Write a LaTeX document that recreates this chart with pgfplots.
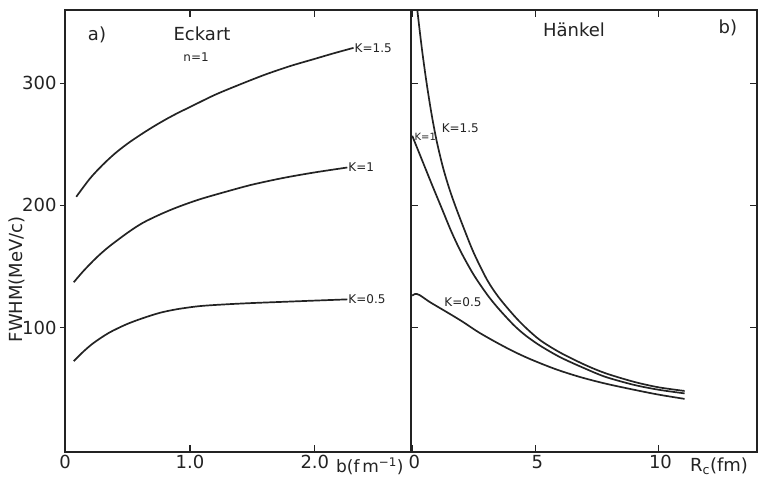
\documentclass[border=0pt]{standalone}
\usepackage{pgfplots}
\pgfplotsset{compat=1.18}
\usepackage{fontspec}
\setmainfont{DejaVu Sans}

\definecolor{ink}{RGB}{35,35,35}

\begin{document}
\begin{tikzpicture}
\useasboundingbox (0pt,0pt) rectangle (758pt,477pt);
\pgfplotsset{
  panel/.style={
    scale only axis, width=346pt, height=442pt,
    ymin=-2, ymax=360,
    axis line style={ink, line width=1.5pt},
    tick style={ink, line width=1.3pt},
    major tick length=7pt,
    tick align=inside,
    tick label style={font=\fontsize{18}{18}\selectfont, text=ink},
    /pgf/number format/assume math mode=true,
    clip mode=individual,
  },
}
\tikzset{
  curve/.style={ink, line width=1.7pt, smooth},
  klabel/.style={font=\fontsize{12}{12}\selectfont, text=ink, anchor=west, inner sep=1pt},
  big/.style={font=\fontsize{18}{18}\selectfont, text=ink},
}

% (a) Eckart potential, n = 1
\begin{axis}[panel, at={(65pt,25pt)}, anchor=south west,
  xmin=0, xmax=2.77,
  xtick={0,1,2}, xticklabels={0,1.0,2.0},
  ytick=\empty, ytick pos=left,
  extra y ticks={100,200,300},
  extra tick style={tick align=outside, major tick length=5pt},
  ylabel={FWHM(MeV/c)},
  ylabel style={at={(rel axis cs:-0.139,0.391)}, anchor=center,
    font=\fontsize{18}{18}\selectfont, text=ink},
]
% K = 1.5
\addplot[curve] coordinates {(0.09,207) (0.2,222) (0.3,233) (0.4,242.5) (0.5,250.5)
  (0.6,257.5) (0.7,264) (0.8,270) (0.9,275.5) (1.0,280.5) (1.2,290.5) (1.4,299)
  (1.6,307) (1.8,314) (2.0,320) (2.15,324.5) (2.31,329)};
% K = 1
\addplot[curve] coordinates {(0.07,137) (0.15,146.5) (0.25,157) (0.35,166) (0.5,177.5)
  (0.62,185.5) (0.76,192.5) (0.9,198.5) (1.08,205) (1.3,211.5) (1.5,217) (1.75,222.5)
  (2.0,227) (2.26,231)};
% K = 0.5
\addplot[curve] coordinates {(0.07,72.4) (0.15,80.5) (0.23,87.4) (0.35,95.5) (0.49,102.5)
  (0.62,107.5) (0.76,112) (0.9,115) (1.08,117.5) (1.3,119) (1.5,120) (1.75,121)
  (2.0,122) (2.26,123)};
\node[klabel] at (axis cs:2.31,329) {K=1.5};
\node[klabel] at (axis cs:2.26,231) {K=1};
\node[klabel] at (axis cs:2.26,123) {K=0.5};
\node[big] at (rel axis cs:0.0925,0.943) {a)};
\node[big] at (rel axis cs:0.396,0.946) {Eckart};
\node[font=\fontsize{12}{12}\selectfont, text=ink] at (rel axis cs:0.379,0.894) {n=1};
\node[big, font=\fontsize{17}{17}\selectfont, anchor=west, inner sep=0pt]
  at (rel axis cs:0.783,-0.032) {b(f\,m\textsuperscript{−1})};
\end{axis}

% (b) Hankel form factor
\begin{axis}[panel, at={(411pt,25pt)}, anchor=south west,
  xmin=-0.05, xmax=14,
  xtick={0,5,10},
  ytick={100,200,300}, ytick pos=both, yticklabels={},
  xticklabel style={xshift=2pt},
  clip=true,
]
% K = 1.5
\addplot[curve] coordinates {(0.1,380) (0.2,361) (0.4,327) (0.6,298) (0.8,273)
  (1.0,252) (1.25,231) (1.5,214) (1.75,199.5) (2.09,181.5) (2.5,161) (3.04,139)
  (3.5,125) (4.12,110) (4.6,100) (5.2,89.5) (6.0,79.5) (7.0,69.5) (7.85,62.5)
  (9.0,55.5) (10.0,51) (11.06,48)};
% K = 1
\addplot[curve] coordinates {(0,257) (0.4,237) (0.8,217) (1.2,197.5) (1.6,178)
  (2.0,161) (2.5,143) (3.04,127) (3.5,115.5) (4.12,102) (4.6,93.5) (5.2,85)
  (6.02,75.5) (7.0,66.5) (7.85,59.5) (9.0,53) (10.0,49) (11.06,46)};
% K = 0.5
\addplot[curve] coordinates {(0,126) (0.12,127.5) (0.3,126.5) (0.7,121) (1.2,115)
  (1.7,109) (2.1,104) (2.7,96) (3.44,87.5) (4.1,80.5) (4.8,74) (5.8,66) (6.8,59.5)
  (7.85,54) (9.0,49) (10.0,45) (11.06,41.5)};
\node[klabel] at (axis cs:1.15,263) {K=1.5};
\node[klabel, font=\fontsize{10}{10}\selectfont] at (axis cs:0.05,256) {K=1};
\node[klabel] at (axis cs:1.26,120.5) {K=0.5};
\node[big] at (rel axis cs:0.471,0.955) {Hänkel};
\node[big] at (rel axis cs:0.916,0.959) {b)};
\node[big, anchor=west, inner sep=0pt] at (rel axis cs:0.806,-0.032) {R\textsubscript{c}(fm)};
\end{axis}
\end{tikzpicture}
\end{document}
